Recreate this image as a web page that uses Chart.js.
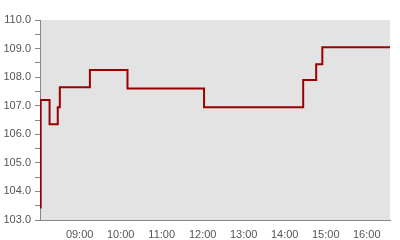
<!DOCTYPE html>
<html>
<head>
<meta charset="utf-8">
<script src="https://cdn.jsdelivr.net/npm/chart.js@4"></script>
<style>
html,body{margin:0;padding:0;background:#fff;}
#wrap{width:400px;height:240px;}
</style>
</head>
<body>
<div id="wrap"><canvas id="c" width="400" height="240"></canvas></div>
<script>
const times = ['08:03','08:03','08:16','08:28','08:31','09:15','10:10','12:02','14:27','14:46','14:55','16:34'];
const prices = [103.4,107.2,106.35,106.95,107.65,108.25,107.6,106.95,107.9,108.45,109.05,109.05];
const xTickLabels = ['09:00','10:00','11:00','12:00','13:00','14:00','15:00','16:00'];
const xRange = ['08:02','16:34'];
const yRange = [103, 110];

const toMin = s => { const [h,m] = s.split(':').map(Number); return h*60+m; };
const pad = n => String(n).padStart(2,'0');
const fmt = v => pad(Math.floor(v/60)) + ':' + pad(Math.round(v%60));

const bgPlugin = {
  id: 'bg',
  beforeDraw(chart) {
    const a = chart.chartArea, ctx = chart.ctx;
    ctx.save();
    ctx.fillStyle = '#e3e3e3';
    ctx.fillRect(a.left, a.top, a.right - a.left, a.bottom - a.top);
    ctx.restore();
  }
};

new Chart(document.getElementById('c'), {
  type: 'line',
  data: {
    datasets: [{
      data: times.map((t,i) => ({x: toMin(t), y: prices[i]})),
      borderColor: '#9b0000',
      borderWidth: 2,
      pointRadius: 0,
      stepped: 'before',
      fill: false
    }]
  },
  options: {
    responsive: false,
    animation: false,
    layout: { padding: { top: 20, right: 10, left: 0, bottom: 0 } },
    plugins: { legend: { display: false }, tooltip: { enabled: false } },
    scales: {
      x: {
        type: 'linear',
        min: toMin(xRange[0]),
        max: toMin(xRange[1]),
        afterBuildTicks(scale) { scale.ticks = xTickLabels.map(l => ({ value: toMin(l) })); },
        afterFit(scale) { scale.height = 20; },
        grid: { display: false },
        border: { display: true, color: '#888', width: 1 },
        ticks: {
          color: '#555',
          font: { family: 'Liberation Sans', size: 11 },
          padding: 0,
          maxRotation: 0,
          autoSkip: false,
          callback: v => fmt(v)
        }
      },
      y: {
        min: yRange[0],
        max: yRange[1],
        afterFit(scale) { scale.width = 40; },
        grid: { drawOnChartArea: false, drawTicks: true, tickLength: 5, color: '#888' },
        border: { display: true, color: '#888', width: 1 },
        ticks: {
          stepSize: 0.5,
          color: '#555',
          font: { family: 'Liberation Sans', size: 11 },
          padding: 4,
          autoSkip: false,
          callback: v => (Math.abs(v - Math.round(v)) < 1e-6 ? Number(v).toFixed(1) : '')
        }
      }
    }
  },
  plugins: [bgPlugin]
});
</script>
</body>
</html>
